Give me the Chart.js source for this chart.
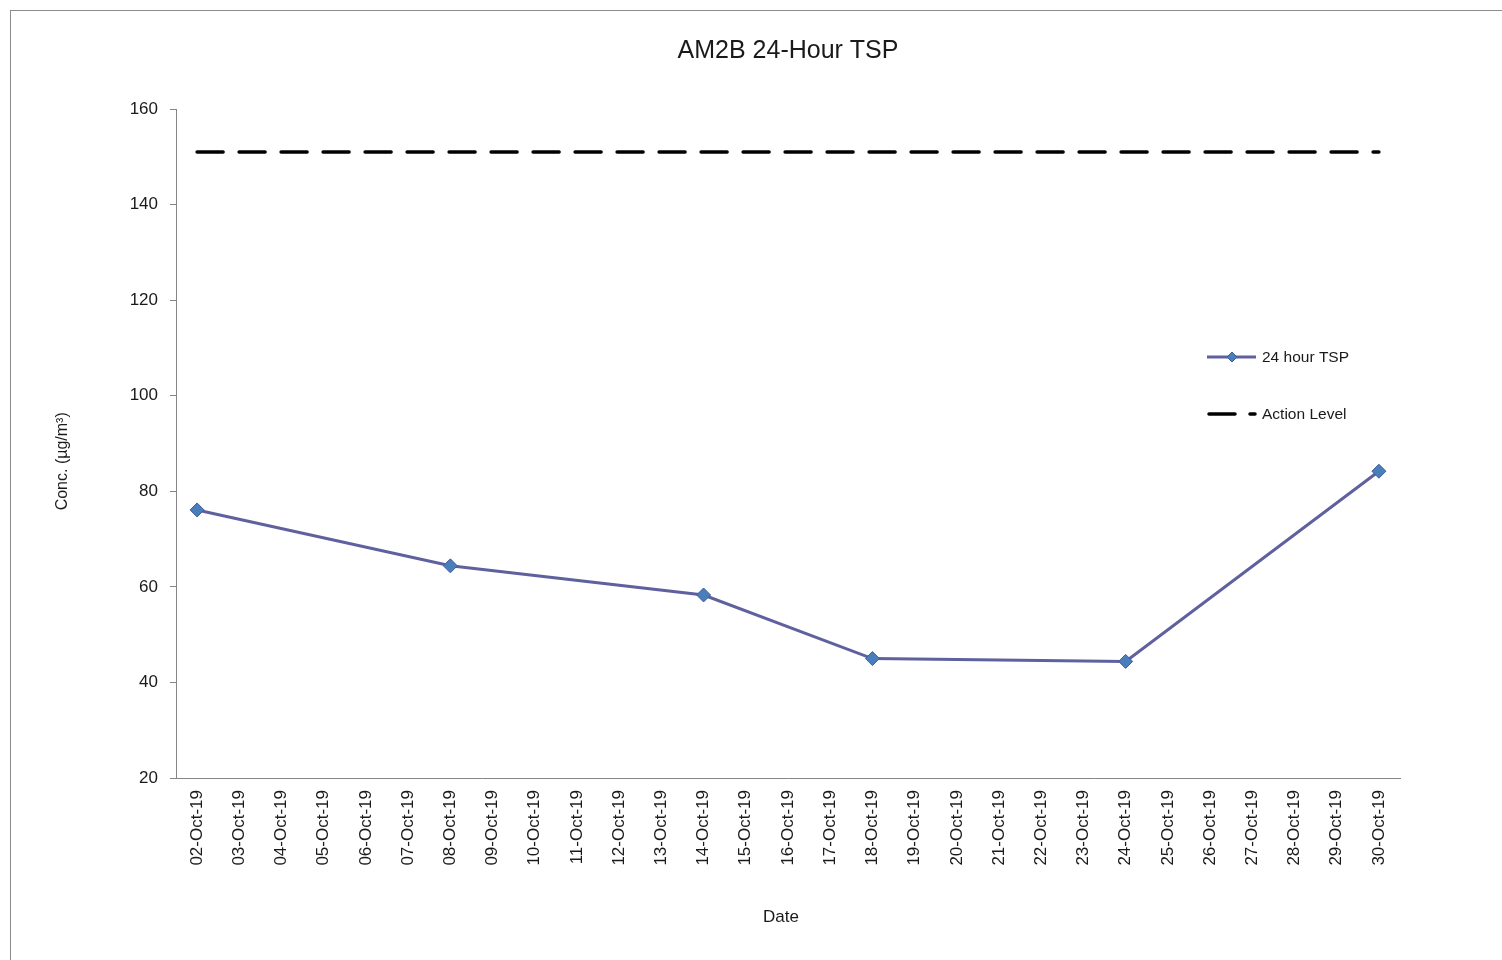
<!DOCTYPE html>
<html>
<head>
<meta charset="utf-8">
<script src="https://cdn.jsdelivr.net/npm/chart.js@4.4.1/dist/chart.umd.min.js"></script>
<style>
html, body { margin: 0; padding: 0; background: #fff; }
#wrap { position: relative; width: 1502px; height: 960px; }
</style>
</head>
<body>
<div id="wrap"><canvas id="chart" width="1502" height="960"></canvas></div>
<script>
const dates = [
    '02-Oct-19', '03-Oct-19', '04-Oct-19', '05-Oct-19', '06-Oct-19', '07-Oct-19', '08-Oct-19',
    '09-Oct-19', '10-Oct-19', '11-Oct-19', '12-Oct-19', '13-Oct-19', '14-Oct-19', '15-Oct-19',
    '16-Oct-19', '17-Oct-19', '18-Oct-19', '19-Oct-19', '20-Oct-19', '21-Oct-19', '22-Oct-19',
    '23-Oct-19', '24-Oct-19', '25-Oct-19', '26-Oct-19', '27-Oct-19', '28-Oct-19', '29-Oct-19',
    '30-Oct-19'
];

// measured every 6th day or so, gaps in between
const tspValues = [
    76.1, null, null, null, null, null, 64.4,
    null, null, null, null, null, 58.3, null,
    null, null, 45.0, null, null, null, null,
    null, 44.4, null, null, null, null, null,
    84.2
];

const actionLevel = [
    151, 151, 151, 151, 151, 151, 151,
    151, 151, 151, 151, 151, 151, 151,
    151, 151, 151, 151, 151, 151, 151,
    151, 151, 151, 151, 151, 151, 151,
    151
];

const yTicks = { min: 20, max: 160, step: 20 };

const lineColor = '#5F609E';
const markerFill = '#4A7EBB';
const markerEdge = '#3D5E9A';
const axisGrey = '#868686';
const textColor = '#1a1a1a';
const fontFamily = "'Liberation Sans', Arial, sans-serif";

// outer chart frame like the spreadsheet chart box
const framePlugin = {
    id: 'frame',
    beforeDraw(chart) {
        const ctx = chart.ctx;
        ctx.save();
        ctx.strokeStyle = '#8c8c8c';
        ctx.lineWidth = 1;
        ctx.strokeRect(10.5, 10.5, 1600, 1000);
        ctx.restore();
    }
};

// legend sits on the right, inside the plot
const sideLegend = {
    id: 'sideLegend',
    afterDraw(chart) {
        const ctx = chart.ctx;
        const ds = chart.data.datasets;
        ctx.save();
        ctx.font = '15.5px ' + fontFamily;
        ctx.fillStyle = textColor;
        ctx.textBaseline = 'middle';

        // 24 hour TSP
        ctx.strokeStyle = lineColor;
        ctx.lineWidth = 3;
        ctx.beginPath();
        ctx.moveTo(1207, 357);
        ctx.lineTo(1256, 357);
        ctx.stroke();
        ctx.beginPath();
        ctx.moveTo(1232, 352);
        ctx.lineTo(1237, 357);
        ctx.lineTo(1232, 362);
        ctx.lineTo(1227, 357);
        ctx.closePath();
        ctx.fillStyle = markerFill;
        ctx.fill();
        ctx.lineWidth = 1;
        ctx.strokeStyle = markerEdge;
        ctx.stroke();
        ctx.fillStyle = textColor;
        ctx.fillText(ds[0].label, 1262, 358);

        // Action Level
        ctx.strokeStyle = '#000';
        ctx.lineWidth = 3.5;
        ctx.lineCap = 'round';
        ctx.beginPath();
        ctx.moveTo(1209, 414);
        ctx.lineTo(1235, 414);
        ctx.moveTo(1250, 414);
        ctx.lineTo(1255, 414);
        ctx.stroke();
        ctx.fillText(ds[1].label, 1262, 415);
        ctx.restore();
    }
};

new Chart(document.getElementById('chart'), {
    type: 'line',
    data: {
        labels: dates,
        datasets: [
            {
                label: '24 hour TSP',
                data: tspValues,
                borderColor: lineColor,
                borderWidth: 3,
                pointStyle: 'rectRot',
                pointRadius: 7,
                pointBackgroundColor: markerFill,
                pointBorderColor: markerEdge,
                pointBorderWidth: 1,
                spanGaps: true,
                tension: 0
            },
            {
                label: 'Action Level',
                data: actionLevel,
                borderColor: '#000000',
                borderWidth: 3.5,
                borderDash: [26, 16],
                borderCapStyle: 'round',
                pointRadius: 0,
                tension: 0
            }
        ]
    },
    options: {
        responsive: false,
        animation: false,
        layout: {
            padding: { left: 53, right: 102, top: 36, bottom: 32 }
        },
        plugins: {
            legend: { display: false },
            tooltip: { enabled: false },
            title: {
                display: true,
                text: 'AM2B 24-Hour TSP',
                fullSize: false,
                color: textColor,
                font: { family: fontFamily, size: 25, weight: 'normal' },
                padding: { top: 0, bottom: 43 }
            }
        },
        scales: {
            x: {
                type: 'category',
                offset: true,
                grid: { display: false, drawTicks: false },
                border: { display: true, color: axisGrey, width: 1 },
                ticks: {
                    autoSkip: false,
                    minRotation: 90,
                    maxRotation: 90,
                    padding: 12,
                    color: textColor,
                    font: { family: fontFamily, size: 17 }
                },
                title: {
                    display: true,
                    text: 'Date   ',
                    color: textColor,
                    padding: 0,
                    font: { family: fontFamily, size: 17 }
                },
                afterFit(scale) { scale.height = 150; }
            },
            y: {
                min: yTicks.min,
                max: yTicks.max,
                grid: {
                    drawOnChartArea: false,
                    drawTicks: true,
                    tickLength: 6,
                    color: axisGrey
                },
                border: { display: true, color: axisGrey, width: 1 },
                ticks: {
                    stepSize: yTicks.step,
                    padding: 12,
                    color: textColor,
                    font: { family: fontFamily, size: 17 }
                },
                title: {
                    display: true,
                    text: 'Conc. (\u00b5g/m\u00b3)        ',
                    color: textColor,
                    padding: 0,
                    font: { family: fontFamily, size: 16 }
                },
                afterFit(scale) { scale.width = 123; }
            }
        }
    },
    plugins: [framePlugin, sideLegend]
});
</script>
</body>
</html>
